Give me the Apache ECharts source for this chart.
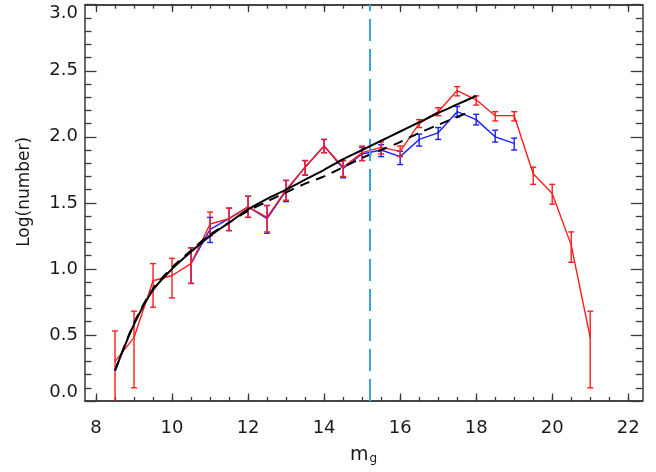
<!DOCTYPE html>
<html><head><meta charset="utf-8">
<script src="https://cdn.jsdelivr.net/npm/echarts@6/dist/echarts.min.js"></script>
<style>html,body{margin:0;padding:0;background:#fff}#c{width:656px;height:472px}</style>
</head><body><div id="c"></div>
<script>
// ---- data ----
const redM   = [8.5,9,9.5,10,10.5,11,11.5,12,12.5,13,13.5,14,14.5,15,15.5,16,16.5,17,17.5,18,18.5,19,19.5,20,20.5,21];
const redVal = [0.30,0.48,0.91,0.95,1.04,1.34,1.38,1.47,1.39,1.60,1.77,1.93,1.77,1.88,1.92,1.89,2.10,2.19,2.35,2.28,2.16,2.16,1.72,1.57,1.18,0.48];
const redLo  = [0.00,0.10,0.71,0.78,0.89,1.25,1.29,1.39,1.28,1.52,1.71,1.88,1.70,1.82,1.87,1.85,2.07,2.16,2.31,2.24,2.12,2.12,1.64,1.49,1.05,0.10];
const redHi  = [0.53,0.68,1.04,1.08,1.16,1.43,1.46,1.55,1.48,1.67,1.82,1.98,1.82,1.93,1.96,1.93,2.13,2.22,2.38,2.31,2.19,2.19,1.77,1.64,1.28,0.68];

const blueM   = [10.5,11,11.5,12,12.5,13,13.5,14,14.5,15,15.5,16,16.5,17,17.5,18,18.5,19];
const blueVal = [1.04,1.30,1.38,1.47,1.38,1.59,1.77,1.93,1.76,1.87,1.90,1.85,1.98,2.03,2.19,2.13,2.00,1.95];
const blueLo  = [0.89,1.20,1.29,1.39,1.27,1.51,1.71,1.88,1.69,1.82,1.85,1.79,1.93,1.98,2.15,2.09,1.96,1.90];
const blueHi  = [1.16,1.39,1.46,1.55,1.48,1.67,1.82,1.98,1.82,1.92,1.94,1.89,2.02,2.07,2.23,2.17,2.05,1.99];

const fitM     = [8.5,9,9.5,10,10.5,11,11.5,12,12.5,13,13.5,14,14.5,15,15.5,16,16.5,17,17.5,18];
const fitSolid = [0.23,0.58,0.84,1.00,1.13,1.25,1.35,1.45,1.53,1.60,1.675,1.75,1.83,1.90,1.97,2.04,2.11,2.18,2.245,2.31];
const fitDashM = [8.5,9,9.5,10,10.5,11,11.5,12,12.5,13,13.5,14,14.5,15,15.5,16,16.5,17,17.5,17.75];
const fitDash  = [0.23,0.59,0.85,1.01,1.14,1.26,1.35,1.44,1.51,1.58,1.645,1.70,1.77,1.84,1.90,1.96,2.03,2.09,2.15,2.18];

const cutM = 15.2;

const xMajorTicks = [8,10,12,14,16,18,20,22];
const xMinorTicks = [8,8.5,9,9.5,10,10.5,11,11.5,12,12.5,13,13.5,14,14.5,15,15.5,16,16.5,17,17.5,18,18.5,19,19.5,20,20.5,21,21.5,22];
const xTitle = 'm';
const xTitleSub = 'g';
const yTitle = 'Log(number)';

// ---- chart ----
const FONT = 'DejaVu Sans';
const AXC = '#3a3a3a';
const RED = '#ff1c1c';
const BLUE = '#1c1cff';

function zip(a, b) { return a.map((v, i) => [v, b[i]]); }
function zip3(a, b, c) { return a.map((v, i) => [v, b[i], c[i]]); }

function errRender(color) {
  return function (params, api) {
    const x = api.value(0), lo = api.value(1), hi = api.value(2);
    const pLo = api.coord([x, lo]), pHi = api.coord([x, hi]);
    const w = 3;
    const st = { stroke: color, lineWidth: 1.4 };
    const ch = [
      { type: 'line', shape: { x1: pLo[0], y1: pLo[1], x2: pHi[0], y2: pHi[1] }, style: st },
      { type: 'line', shape: { x1: pHi[0] - w, y1: pHi[1], x2: pHi[0] + w, y2: pHi[1] }, style: st }
    ];
    if (lo > 0) ch.push({ type: 'line', shape: { x1: pLo[0] - w, y1: pLo[1], x2: pLo[0] + w, y2: pLo[1] }, style: st });
    return { type: 'group', children: ch };
  };
}

const xBase = {
  type: 'value', min: 7.71, max: 22.37,
  axisLine: { show: true, onZero: false, lineStyle: { color: AXC, width: 1.5 } },
  splitLine: { show: false }
};
function xAx(pos, major, withLabel) {
  const a = Object.assign({}, xBase, {
    position: pos,
    axisTick: { show: true, inside: true, length: major ? 7.5 : 4, customValues: major ? xMajorTicks : xMinorTicks,
      lineStyle: { color: AXC, width: 1.3 } },
    axisLabel: withLabel ? { show: true, customValues: xMajorTicks, margin: 18, fontSize: 18, fontFamily: FONT, color: '#1a1a1a' } : { show: false }
  });
  if (withLabel) {
    a.name = '{m|' + xTitle + '}{s|' + xTitleSub + '}';
    a.nameLocation = 'middle';
    a.nameGap = 44;
    a.nameTextStyle = { rich: {
      m: { fontSize: 19, fontFamily: FONT, color: '#1a1a1a', verticalAlign: 'bottom' },
      s: { fontSize: 12, fontFamily: FONT, color: '#1a1a1a', verticalAlign: 'top', padding: [8, 0, 0, 1] }
    } };
  }
  return a;
}
function yAx(pos, withLabel) {
  const a = {
    type: 'value', min: 0, max: 3, interval: 0.5, position: pos,
    axisLine: { show: true, onZero: false, lineStyle: { color: AXC, width: 1.5 } },
    axisTick: { show: true, inside: true, length: 11.5, lineStyle: { color: AXC, width: 1.3 } },
    minorTick: { show: true, splitNumber: 5, length: 6.5, lineStyle: { color: AXC, width: 1.3 } },
    splitLine: { show: false }, minorSplitLine: { show: false },
    axisLabel: withLabel ? { show: true, margin: 7, fontSize: 18, fontFamily: FONT, color: '#1a1a1a',
      formatter: v => v.toFixed(1), verticalAlignMinLabel: 'bottom', verticalAlignMaxLabel: 'top' } : { show: false }
  };
  if (withLabel) {
    a.name = yTitle;
    a.nameLocation = 'middle';
    a.nameGap = 52;
    a.nameRotate = 90;
    a.nameTextStyle = { fontSize: 17, fontFamily: FONT, color: '#1a1a1a', padding: [0, 0, 0, 22] };
  }
  return a;
}

const chart = echarts.init(document.getElementById('c'), null, { renderer: 'canvas' });
chart.setOption({
  animation: false,
  backgroundColor: '#ffffff',
  grid: { left: 85, right: 13.7, top: 4.7, bottom: 71, containLabel: false },
  xAxis: [xAx('bottom', true, true), xAx('bottom', false, false), xAx('top', true, false), xAx('top', false, false)],
  yAxis: [yAx('left', true), yAx('right', false)],
  series: [
    { type: 'line', data: [], z: 1, silent: true,
      markLine: { silent: true, symbol: 'none', label: { show: false },
        lineStyle: { color: '#35a7e6', type: [22, 8], width: 2 },
        data: [{ xAxis: cutM }] } },
    { type: 'line', data: zip(blueM, blueVal), showSymbol: false, z: 2,
      lineStyle: { color: BLUE, width: 1.4 } },
    { type: 'custom', data: zip3(blueM, blueLo, blueHi), renderItem: errRender(BLUE), z: 2,
      encode: { x: 0, y: [1, 2] } },
    { type: 'line', data: zip(redM, redVal), showSymbol: false, z: 3,
      lineStyle: { color: RED, width: 1.4 } },
    { type: 'custom', data: zip3(redM, redLo, redHi), renderItem: errRender(RED), z: 3,
      encode: { x: 0, y: [1, 2] } },
    { type: 'line', data: zip(fitDashM, fitDash), showSymbol: false, smooth: 0.3, z: 4,
      lineStyle: { color: '#000', width: 2, type: [10, 7] } },
    { type: 'line', data: zip(fitM, fitSolid), showSymbol: false, smooth: 0.3, z: 5,
      lineStyle: { color: '#000', width: 2 } }
  ]
});
</script>
</body></html>
